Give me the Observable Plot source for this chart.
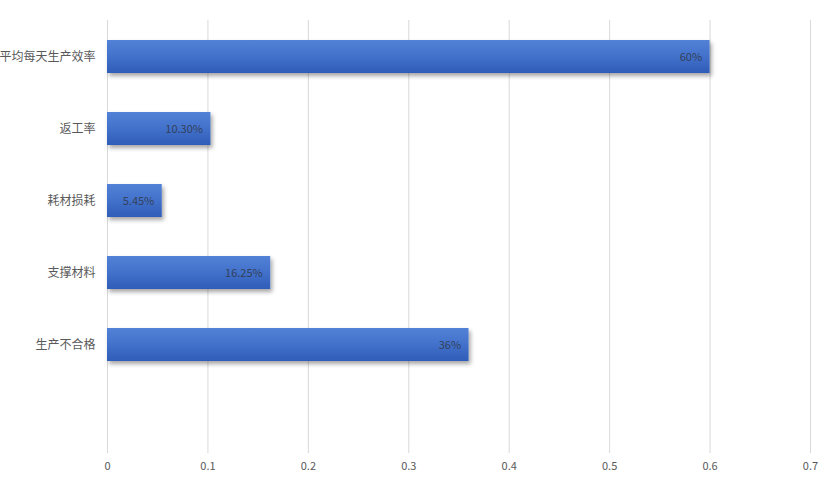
<!DOCTYPE html>
<html>
<head>
<meta charset="utf-8">
<script src="https://cdn.jsdelivr.net/npm/d3@7"></script>
<script src="https://cdn.jsdelivr.net/npm/@observablehq/plot@0.6"></script>
<style>
  body { margin: 0; background: #fff; }
  #chart svg { display: block; }
</style>
</head>
<body>
<div id="chart"></div>
<script>
const categories = ["平均每天生产效率", "返工率", "耗材损耗", "支撑材料", "生产不合格"];
const values = [0.60, 0.103, 0.0545, 0.1625, 0.36];
const valueLabels = ["60%", "10.30%", "5.45%", "16.25%", "36%"];
const xTicks = [0, 0.1, 0.2, 0.3, 0.4, 0.5, 0.6, 0.7];
const xTickLabels = ["0", "0.1", "0.2", "0.3", "0.4", "0.5", "0.6", "0.7"];

const data = categories.map((c, i) => ({ category: c, value: values[i], label: valueLabels[i] }));
const yDomain = [...categories, ""];
const xLabelData = xTicks.map((t, i) => ({ t, label: xTickLabels[i] }));

const defs = () => {
  const ns = "http://www.w3.org/2000/svg";
  const g = document.createElementNS(ns, "defs");
  g.innerHTML = `
    <linearGradient id="barGrad" x1="0" y1="0" x2="0" y2="1">
      <stop offset="0%" stop-color="#5281d6"/>
      <stop offset="45%" stop-color="#4473cc"/>
      <stop offset="100%" stop-color="#2e5cb8"/>
    </linearGradient>
    <filter id="barShadow" x="-5%" y="-20%" width="115%" height="160%">
      <feDropShadow dx="2" dy="3" stdDeviation="2" flood-color="#000" flood-opacity="0.35"/>
    </filter>`;
  return g;
};

const font = "'Noto Sans CJK SC', 'Noto Sans', sans-serif";

const chart = Plot.plot({
  width: 824,
  height: 484,
  marginTop: 20,
  marginBottom: 31,
  marginLeft: 107,
  marginRight: 14,
  style: { fontFamily: font, background: "#fff" },
  x: { domain: [0, 0.7], axis: null },
  y: { domain: yDomain, paddingInner: 0.54, paddingOuter: 0.27, axis: null },
  marks: [
    defs,
    Plot.ruleX(xTicks, { stroke: "#d9d9d9", strokeWidth: 1 }),
    Plot.barX(data, { x: "value", y: "category", fill: "url(#barGrad)" }),
    Plot.text(data, { x: "value", y: "category", text: "label", textAnchor: "end", dx: -8, fill: "#33415c", fontSize: 11 }),
    Plot.text(categories, { y: d => d, text: d => d, frameAnchor: "left", textAnchor: "end", dx: -12, fill: "#595959", fontSize: 12 }),
    Plot.text(xLabelData, { x: "t", text: "label", frameAnchor: "bottom", lineAnchor: "middle", dy: 13, fill: "#595959", fontSize: 11 })
  ]
});

d3.select(chart).selectAll("g[aria-label='bar'] rect").attr("filter", "url(#barShadow)");
document.getElementById("chart").appendChild(chart);
</script>
</body>
</html>
